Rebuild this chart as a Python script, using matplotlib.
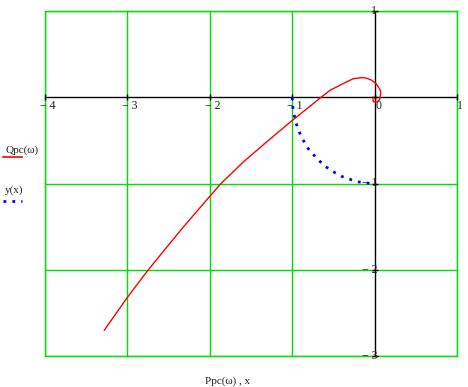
import matplotlib
matplotlib.use("Agg")
import matplotlib.pyplot as plt

# Red curve: Qpc(w) vs Ppc(w)
ppc = [-0.02, -0.02, -0.015, 0.01, 0.03, 0.06, 0.074, 0.07, 0.045, 0.01, -0.035,
       -0.10, -0.157, -0.26, -0.38, -0.54, -0.65, -0.784, -1.006, -1.31, -1.593,
       -1.876, -2.006, -2.32, -2.55, -2.77, -3.0, -3.28]
qpc = [0.0, -0.03, -0.05, -0.055, -0.052, -0.03, 0.04, 0.08, 0.12, 0.165, 0.197,
       0.222, 0.228, 0.215, 0.159, 0.081, 0.0, -0.104, -0.274, -0.518, -0.75,
       -1.012, -1.155, -1.503, -1.77, -2.03, -2.32, -2.70]

# Blue dotted curve: y(x)
xs = [-1.0, -0.99, -0.96, -0.92, -0.885, -0.81, -0.71, -0.69, -0.6, -0.52, -0.4,
      -0.34, -0.2, -0.14, -0.05, 0.0]
ys = [0.0, -0.14, -0.28, -0.39, -0.466, -0.59, -0.70, -0.72, -0.80, -0.854, -0.917,
      -0.94, -0.98, -0.99, -0.999, -1.0]

x_ticks = [-4, -3, -2, -1, 0, 1]
x_tick_labels = ["\u2212 4", "\u2212 3", "\u2212 2", "\u2212 1", "0", "1"]
y_ticks = [-3, -2, -1, 0, 1]
y_tick_labels = ["\u2212 3", "\u2212 2", "\u2212 1", "", "1"]

GREEN = "#00e000"
SERIF = ["Liberation Serif", "DejaVu Serif"]

fig = plt.figure(figsize=(4.68, 3.87), dpi=100)
ax = fig.add_axes([45 / 468, 1 - 356 / 387, 412 / 468, 345 / 387])
ax.set_xlim(-4, 1)
ax.set_ylim(-3, 1)

for s in ax.spines.values():
    s.set_color(GREEN)
    s.set_linewidth(1.0)
ax.set_xticks([])
ax.set_yticks([])

for xv in x_ticks:
    if xv != 0:
        ax.axvline(xv, color=GREEN, lw=1.0, zorder=1)
for yv in y_ticks:
    if yv != 0:
        ax.axhline(yv, color=GREEN, lw=1.0, zorder=1)

ax.axhline(0, color="black", lw=1.0, zorder=2)
ax.axvline(0, color="black", lw=1.0, zorder=2)
ax.plot(x_ticks, [0] * len(x_ticks), "|", color="black", ms=5, mew=1.0, zorder=3,
        clip_on=False)
ax.plot([0] * len(y_ticks), y_ticks, "_", color="black", ms=5, mew=1.0, zorder=3,
        clip_on=False)

ax.plot(ppc, qpc, color="red", lw=1.0, zorder=4)
ax.plot(xs, ys, color="blue", lw=2.0, ls=(0, (1, 2.2)), zorder=4)

for xv, lab in zip(x_ticks, x_tick_labels):
    ax.text(xv + (0.03 if xv != 0 else 0.05), -0.03, lab, ha="center", va="top",
            fontsize=8.5, family=SERIF, color="#222222")
for yv, lab in zip(y_ticks, y_tick_labels):
    if lab:
        ax.text(0.03, yv, lab, ha="right", va="center", fontsize=8.5, family=SERIF,
                color="#222222")

# Legend (left)
fig.text(5 / 468, 1 - 150 / 387, "Qpc(\u03c9)", fontsize=8, family=SERIF,
         ha="left", va="center", color="#222222")
fig.add_artist(plt.Line2D([3 / 468, 22 / 468], [1 - 157 / 387] * 2, color="red", lw=1.2))
fig.text(5 / 468, 1 - 190 / 387, "y(x)", fontsize=8, family=SERIF,
         ha="left", va="center", color="#222222")
fig.add_artist(plt.Line2D([3 / 468, 22 / 468], [1 - 201 / 387] * 2, color="blue",
                          lw=2.0, ls=(0, (1, 2.2))))

fig.text(228 / 468, 1 - 381 / 387, "Ppc(\u03c9) , x", fontsize=8, family=SERIF,
         ha="center", va="center", color="#222222")

fig.savefig("out.png", dpi=100)
